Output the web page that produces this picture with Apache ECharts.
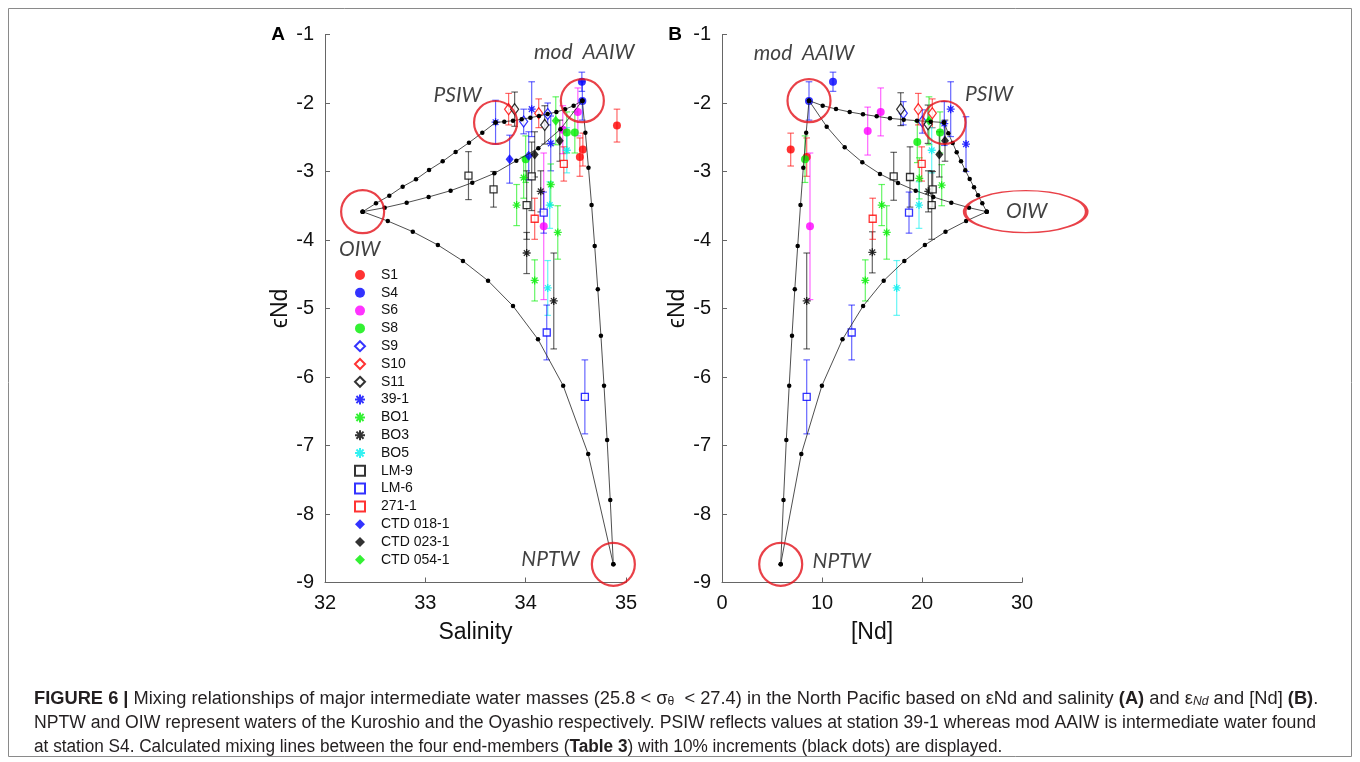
<!DOCTYPE html>
<html>
<head>
<meta charset="utf-8">
<script src="https://cdn.jsdelivr.net/npm/echarts@6/dist/echarts.min.js"></script>
<style>
  html, body { margin: 0; padding: 0; background: #fff; }
  #chart { width: 1360px; height: 762px; }
</style>
</head>
<body>
<div id="chart"></div>
<script>
// ---- Station measurements: panel A rows are [salinity, eNd, error], panel B rows are [Nd, eNd, error]
const S1_A = [[34.91, -2.33, 0.24], [34.57, -2.68, 0.24], [34.54, -2.79, 0.28]];
const S1_B = [[6.87, -2.68, 0.24], [8.47, -2.79, 0.28]];
const S4_A = [[34.56, -1.69, 0.14], [34.565, -1.97, 0.28]];
const S4_B = [[11.1, -1.69, 0.14], [8.7, -1.97, 0.28]];
const S6_A = [[34.52, -2.13, 0.35], [34.37, -2.39, 0.35], [34.18, -3.80, 1.07]];
const S6_B = [[15.87, -2.13, 0.35], [14.57, -2.41, 0.35], [8.8, -3.80, 1.07]];
const S8_A = [[34.41, -2.43, 0.3], [34.49, -2.43, 0.3], [34.00, -2.82, 0.34]];
const S8_B = [[21.8, -2.43, 0.3], [19.53, -2.57, 0.3], [8.3, -2.82, 0.34]];
const S9_A = [[33.98, -2.27, 0.18], [34.22, -2.16, 0.16]];
const S9_B = [[20.03, -2.27, 0.17], [18.13, -2.15, 0.17]];
const S10_A = [[33.83, -2.09, 0.23], [34.13, -2.15, 0.21]];
const S10_B = [[19.63, -2.09, 0.23], [21.03, -2.15, 0.21]];
const S11_A = [[33.89, -2.09, 0.25], [34.19, -2.32, 0.28]];
const S11_B = [[17.87, -2.09, 0.24], [20.6, -2.31, 0.28]];
const ST39_A = [[33.70, -2.28, 0.32], [34.06, -2.09, 0.4], [34.25, -2.59, 0.4]];
const ST39_B = [[22.23, -2.30, 0.32], [22.87, -2.09, 0.4], [24.4, -2.60, 0.4]];
const BO1_A = [[33.98, -3.09, 0.3], [33.91, -3.49, 0.3], [34.25, -3.19, 0.3], [34.32, -3.89, 0.39], [34.09, -4.59, 0.3]];
const BO1_B = [[19.73, -3.10, 0.3], [15.97, -3.49, 0.3], [21.97, -3.20, 0.3], [16.47, -3.89, 0.39], [14.33, -4.59, 0.3]];
const BO3_A = [[34.15, -3.29, 0.3], [34.01, -4.19, 0.3], [34.28, -4.89, 0.7]];
const BO3_B = [[20.63, -3.29, 0.3], [15.03, -4.18, 0.3], [8.47, -4.89, 0.7]];
const BO5_A = [[34.41, -2.69, 0.33], [34.24, -3.49, 0.34], [34.22, -4.70, 0.4]];
const BO5_B = [[20.97, -2.69, 0.33], [19.7, -3.49, 0.34], [17.47, -4.70, 0.4]];
const LM9_A = [[33.43, -3.06, 0.35], [33.68, -3.26, 0.26], [34.06, -3.07, 0.5], [34.01, -3.49, 0.5]];
const LM9_B = [[17.17, -3.07, 0.35], [18.8, -3.08, 0.44], [21.07, -3.26, 0.26], [20.97, -3.49, 0.5]];
const LM6_A = [[34.18, -3.60, 0.3], [34.21, -5.35, 0.4], [34.59, -6.29, 0.54]];
const LM6_B = [[18.7, -3.60, 0.3], [12.97, -5.35, 0.4], [8.47, -6.29, 0.54]];
const R271_A = [[34.38, -2.89, 0.25], [34.09, -3.69, 0.3]];
const R271_B = [[19.97, -2.89, 0.25], [15.07, -3.69, 0.3]];
const CTD018_A = [[33.84, -2.82, 0.35], [34.03, -2.77, 0.35]];
const CTD018_B = [];
const CTD023_A = [[34.34, -2.55, 0.3], [34.09, -2.75, 0.33]];
const CTD023_B = [[22.3, -2.55, 0.3], [21.73, -2.75, 0.33]];
const CTD054_A = [[34.30, -2.26, 0.35]];
const CTD054_B = [[20.7, -2.26, 0.35]];

const STATION_NAMES = ['S1', 'S4', 'S6', 'S8', 'S9', 'S10', 'S11', '39-1', 'BO1', 'BO3', 'BO5',
  'LM-9', 'LM-6', '271-1', 'CTD 018-1', 'CTD 023-1', 'CTD 054-1'];
const STATION_A = [S1_A, S4_A, S6_A, S8_A, S9_A, S10_A, S11_A, ST39_A, BO1_A, BO3_A, BO5_A,
  LM9_A, LM6_A, R271_A, CTD018_A, CTD023_A, CTD054_A];
const STATION_B = [S1_B, S4_B, S6_B, S8_B, S9_B, S10_B, S11_B, ST39_B, BO1_B, BO3_B, BO5_B,
  LM9_B, LM6_B, R271_B, CTD018_B, CTD023_B, CTD054_B];

// ---- End-members
const EM_NAMES = ['mod  AAIW', 'PSIW', 'OIW', 'NPTW'];
const EM_SAL = [34.565, 33.70, 32.375, 34.874];
const EM_ND = [8.7, 22.2, 26.47, 5.87];
const EM_EPS = [-1.966, -2.285, -3.587, -8.735];

// ---- Mixing lines, 10% steps: panel A [salinity, eNd]
const MIX_A_PSIW_OIW = [[33.70, -2.285], [33.568, -2.433], [33.435, -2.579], [33.302, -2.715], [33.173, -2.852], [33.037, -2.978], [32.907, -3.114], [32.774, -3.221], [32.641, -3.353], [32.508, -3.465], [32.375, -3.587]];
const MIX_A_PSIW_AAIW = [[33.70, -2.285], [33.787, -2.272], [33.874, -2.258], [33.960, -2.238], [34.047, -2.214], [34.133, -2.190], [34.219, -2.160], [34.306, -2.131], [34.392, -2.092], [34.478, -2.039], [34.565, -1.966]];
const MIX_A_OIW_AAIW = [[32.375, -3.587], [32.595, -3.528], [32.814, -3.455], [33.033, -3.372], [33.252, -3.280], [33.468, -3.163], [33.688, -3.027], [33.907, -2.842], [34.126, -2.662], [34.346, -2.384], [34.565, -1.966]];
const MIX_A_AAIW_NPTW = [[34.565, -1.966], [34.595, -2.434], [34.626, -2.945], [34.657, -3.489], [34.688, -4.088], [34.719, -4.720], [34.750, -5.397], [34.781, -6.127], [34.812, -6.920], [34.843, -7.796], [34.874, -8.735]];
const MIX_A_OIW_NPTW = [[32.375, -3.587], [32.626, -3.723], [32.875, -3.879], [33.125, -4.073], [33.375, -4.307], [33.625, -4.594], [33.874, -4.964], [34.123, -5.450], [34.374, -6.127], [34.623, -7.124], [34.874, -8.735]];

// ---- Mixing lines, 10% steps: panel B [Nd, eNd]
const MIX_B_AAIW_PSIW = [[8.7, -1.966], [10.07, -2.039], [11.4, -2.088], [12.77, -2.131], [14.1, -2.165], [15.47, -2.195], [16.8, -2.224], [18.17, -2.243], [19.5, -2.258], [20.87, -2.272], [22.2, -2.285]];
const MIX_B_AAIW_OIW = [[8.7, -1.966], [10.47, -2.345], [12.27, -2.647], [14.03, -2.866], [15.8, -3.036], [17.6, -3.168], [19.37, -3.280], [21.13, -3.372], [22.93, -3.455], [24.7, -3.528], [26.47, -3.587]];
const MIX_B_PSIW_OIW = [[22.2, -2.285], [22.63, -2.443], [23.07, -2.584], [23.47, -2.720], [23.9, -2.852], [24.33, -2.983], [24.77, -3.109], [25.2, -3.231], [25.6, -3.347], [26.03, -3.465], [26.47, -3.587]];
const MIX_B_AAIW_NPTW = [[8.7, -1.966], [8.42, -2.434], [8.13, -2.945], [7.85, -3.489], [7.57, -4.088], [7.28, -4.720], [7.0, -5.397], [6.72, -6.127], [6.43, -6.920], [6.15, -7.796], [5.87, -8.735]];
const MIX_B_OIW_NPTW = [[26.47, -3.587], [24.41, -3.723], [22.35, -3.879], [20.29, -4.073], [18.23, -4.307], [16.17, -4.594], [14.11, -4.964], [12.05, -5.450], [9.99, -6.127], [7.93, -7.124], [5.87, -8.735]];

// ---- Axis ticks
const Y_MIN = -9, Y_MAX = -1, Y_STEP = 1;
const SAL_MIN = 32, SAL_MAX = 35, SAL_STEP = 1;
const ND_MIN = 0, ND_MAX = 30, ND_STEP = 10;

// ---- Marker styles per station
const STAR = 'path://M5 0L5 10M0 5L10 5M1.46 1.46L8.54 8.54M1.46 8.54L8.54 1.46';
const MARK = {
  'S1':        { c: '#ff0000', sym: 'circle',  size: 8,       open: false },
  'S4':        { c: '#0000ff', sym: 'circle',  size: 8,       open: false },
  'S6':        { c: '#ff00ff', sym: 'circle',  size: 8,       open: false },
  'S8':        { c: '#00ee00', sym: 'circle',  size: 8,       open: false },
  'S9':        { c: '#0000ff', sym: 'diamond', size: [8, 11], open: true },
  'S10':       { c: '#ff0000', sym: 'diamond', size: [8, 11], open: true },
  'S11':       { c: '#000000', sym: 'diamond', size: [8, 11], open: true },
  '39-1':      { c: '#0000ff', sym: STAR,      size: 8,       star: true },
  'BO1':       { c: '#00ee00', sym: STAR,      size: 8,       star: true },
  'BO3':       { c: '#000000', sym: STAR,      size: 8,       star: true },
  'BO5':       { c: '#00eeee', sym: STAR,      size: 8,       star: true },
  'LM-9':      { c: '#000000', sym: 'rect',    size: 7,       open: true },
  'LM-6':      { c: '#0000ff', sym: 'rect',    size: 7,       open: true },
  '271-1':     { c: '#ff0000', sym: 'rect',    size: 7,       open: true },
  'CTD 018-1': { c: '#0000ff', sym: 'diamond', size: [8, 10], open: false },
  'CTD 023-1': { c: '#000000', sym: 'diamond', size: [8, 10], open: false },
  'CTD 054-1': { c: '#00ee00', sym: 'diamond', size: [8, 10], open: false }
};

const RING_RED = '#e3121a';
const SANS = '"Liberation Sans", Arial, Helvetica, sans-serif';
const ITAL = 'Lato, "Open Sans", sans-serif';

// label offsets (px) of the end-member names, relative to each end-member
const LABEL_OFF_A = [[2, -48], [-38, -27], [-3, 38], [-63, -5]];
const LABEL_OFF_B = [[-5, -47], [45, -28], [40, 0], [61, -3]];

function errorBarSeries(rows, color, xi) {
  return {
    type: 'custom',
    xAxisIndex: xi, yAxisIndex: xi,
    z: 2,
    silent: true,
    data: rows,
    renderItem: function (params, api) {
      const x = api.value(0), y = api.value(1), e = api.value(2);
      const top = api.coord([x, y + e]);
      const bot = api.coord([x, y - e]);
      const hw = 3.3;
      const st = { stroke: color, lineWidth: 1.2, opacity: 0.6 };
      return {
        type: 'group',
        children: [
          { type: 'line', shape: { x1: top[0], y1: top[1], x2: bot[0], y2: bot[1] }, style: st },
          { type: 'line', shape: { x1: top[0] - hw, y1: top[1], x2: top[0] + hw, y2: top[1] }, style: st },
          { type: 'line', shape: { x1: bot[0] - hw, y1: bot[1], x2: bot[0] + hw, y2: bot[1] }, style: st }
        ]
      };
    }
  };
}

function markerSeries(name, rows, xi) {
  const m = MARK[name];
  let itemStyle;
  if (m.star) itemStyle = { color: m.c, borderColor: m.c, borderWidth: 1.3 };
  else if (m.open) itemStyle = { color: '#ffffff', borderColor: m.c, borderWidth: 1.3 };
  else itemStyle = { color: m.c, borderColor: m.c, borderWidth: 0 };
  return {
    type: 'scatter',
    name: name,
    xAxisIndex: xi, yAxisIndex: xi,
    z: 3,
    symbol: m.sym,
    symbolSize: m.size,
    itemStyle: itemStyle,
    data: rows.map(r => [r[0], r[1]])
  };
}

function mixSeries(points, xi) {
  return {
    type: 'line',
    xAxisIndex: xi, yAxisIndex: xi,
    z: 4,
    silent: true,
    symbol: 'circle',
    symbolSize: 4.5,
    showSymbol: true,
    itemStyle: { color: '#000' },
    lineStyle: { color: '#222', width: 0.8 },
    data: points
  };
}

function ringSeries(xs, xi, ellipseIdx) {
  return {
    type: 'scatter',
    xAxisIndex: xi, yAxisIndex: xi,
    z: 5,
    silent: true,
    data: xs.map((x, i) => {
      const item = { value: [x, EM_EPS[i]] };
      if (i === ellipseIdx) { item.symbolSize = [122, 42]; item.symbolOffset = [39, 0]; }
      return item;
    }),
    symbol: 'circle',
    symbolSize: 43,
    itemStyle: { color: 'rgba(0,0,0,0)', borderColor: RING_RED, borderWidth: 2.2 }
  };
}

function nameSeries(xs, xi, offs) {
  return {
    type: 'scatter',
    xAxisIndex: xi, yAxisIndex: xi,
    z: 6,
    silent: true,
    symbolSize: 0,
    data: xs.map((x, i) => ({
      value: [x, EM_EPS[i]],
      name: EM_NAMES[i],
      label: { offset: offs[i] }
    })),
    label: {
      show: true,
      position: 'inside',
      formatter: p => p.name,
      fontFamily: ITAL,
      fontStyle: 'italic',
      fontSize: 21,
      color: '#111'
    }
  };
}

const series = [];
STATION_NAMES.forEach((n, i) => {
  series.push(errorBarSeries(STATION_A[i], MARK[n].c, 0));
  series.push(markerSeries(n, STATION_A[i], 0));
});
STATION_NAMES.forEach((n, i) => {
  series.push(errorBarSeries(STATION_B[i], MARK[n].c, 1));
  series.push(markerSeries(n, STATION_B[i], 1));
});
[MIX_A_PSIW_OIW, MIX_A_PSIW_AAIW, MIX_A_OIW_AAIW, MIX_A_AAIW_NPTW, MIX_A_OIW_NPTW].forEach(p => series.push(mixSeries(p, 0)));
[MIX_B_AAIW_PSIW, MIX_B_AAIW_OIW, MIX_B_PSIW_OIW, MIX_B_AAIW_NPTW, MIX_B_OIW_NPTW].forEach(p => series.push(mixSeries(p, 1)));
series.push(ringSeries(EM_SAL, 0, -1));
series.push(ringSeries(EM_ND, 1, 2));
series.push(nameSeries(EM_SAL, 0, LABEL_OFF_A));
series.push(nameSeries(EM_ND, 1, LABEL_OFF_B));

const AXIS_COLOR = '#666';
function valueAxis(min, max, step, name, gridIndex, isY) {
  return {
    type: 'value',
    gridIndex: gridIndex,
    min: min, max: max, interval: step,
    name: name,
    nameLocation: 'middle',
    nameGap: isY ? 29 : 39,
    nameRotate: isY ? 90 : 0,
    nameTextStyle: { fontFamily: SANS, fontSize: 23, color: '#111' },
    axisLine: { show: true, onZero: false, lineStyle: { color: AXIS_COLOR, width: 1 } },
    axisTick: { show: true, inside: true, length: 5, lineStyle: { color: AXIS_COLOR } },
    axisLabel: { fontFamily: SANS, fontSize: 20, color: '#111', margin: 11 },
    splitLine: { show: false }
  };
}

// caption: a horizontally condensed sans; each line squeezed to its own width
const CAP_FONT = '"Liberation Sans", Arial, sans-serif';
const CAP_SIZE = 18;
const CAP_LINE2 = 'NPTW and OIW represent waters of the Kuroshio and the Oyashio respectively. PSIW reflects values at station 39-1 whereas mod AAIW is intermediate water found';
function measure(text, family, size) {
  const ctx = document.createElement('canvas').getContext('2d');
  ctx.font = size + 'px ' + family;
  return ctx.measureText(text).width;
}
const capScale = 1282 / measure(CAP_LINE2, CAP_FONT, CAP_SIZE);
const capTok = (w, s) => ({ fontFamily: CAP_FONT, fontSize: s || CAP_SIZE, fontWeight: w || 'normal', fill: '#231f20', verticalAlign: 'bottom', lineHeight: 22 });
const capRich = {
  n: capTok('normal'),
  b: capTok('bold'),
  s: Object.assign(capTok('normal', 12), { lineHeight: 16 }),
  si: Object.assign(capTok('normal', 12), { fontStyle: 'italic', lineHeight: 16 })
};
function capLine(y, text, k) {
  return {
    type: 'text', x: 34, y: y, z: 10, scaleX: capScale * k,
    style: { text: text, rich: capRich, verticalAlign: 'middle', align: 'left',
      fontFamily: CAP_FONT, fontSize: CAP_SIZE, fill: '#231f20' }
  };
}

const option = {
  animation: false,
  backgroundColor: '#fff',
  grid: [
    { left: 325, top: 34.5, width: 301, height: 548 },
    { left: 722, top: 34.5, width: 300, height: 548 }
  ],
  xAxis: [
    valueAxis(SAL_MIN, SAL_MAX, SAL_STEP, 'Salinity', 0, false),
    valueAxis(ND_MIN, ND_MAX, ND_STEP, '[Nd]', 1, false)
  ],
  yAxis: [
    valueAxis(Y_MIN, Y_MAX, Y_STEP, '\u03F5Nd', 0, true),
    valueAxis(Y_MIN, Y_MAX, Y_STEP, '\u03F5Nd', 1, true)
  ],
  legend: {
    data: STATION_NAMES,
    orient: 'vertical',
    left: 349,
    top: 263,
    itemWidth: 10,
    itemHeight: 10,
    itemGap: 3.8,
    selectedMode: false,
    textStyle: { fontFamily: SANS, fontSize: 14, color: '#111', padding: [0, 0, 0, 11] }
  },
  graphic: [
    { type: 'rect', shape: { x: 8.5, y: 8.5, width: 1343, height: 748 },
      style: { fill: 'none', stroke: '#8a8a8a', lineWidth: 1 }, z: 0 },
    { type: 'text', x: 278, y: 35, style: { text: 'A', fontFamily: SANS, fontWeight: 'bold', fontSize: 19, fill: '#000', align: 'center', verticalAlign: 'middle' } },
    { type: 'text', x: 675, y: 35, style: { text: 'B', fontFamily: SANS, fontWeight: 'bold', fontSize: 19, fill: '#000', align: 'center', verticalAlign: 'middle' } },
    capLine(697, '{b|FIGURE 6 |}{n| Mixing relationships of major intermediate water masses (25.8 < \u03C3}{s|\u03B8}{n|  < 27.4) in the North Pacific based on \u03B5Nd and salinity }{b|(A)}{n| and \u03B5}{si|Nd}{n| and [Nd] }{b|(B)}{n|.}', 1.037),
    capLine(721, '{n|' + CAP_LINE2 + '}', 1),
    capLine(745, '{n|at station S4. Calculated mixing lines between the four end-members (}{b|Table 3}{n|) with 10% increments (black dots) are displayed.}', 0.976)
  ],
  series: series
};

const chart = echarts.init(document.getElementById('chart'), null, { renderer: 'canvas' });
chart.setOption(option);
</script>
</body>
</html>
